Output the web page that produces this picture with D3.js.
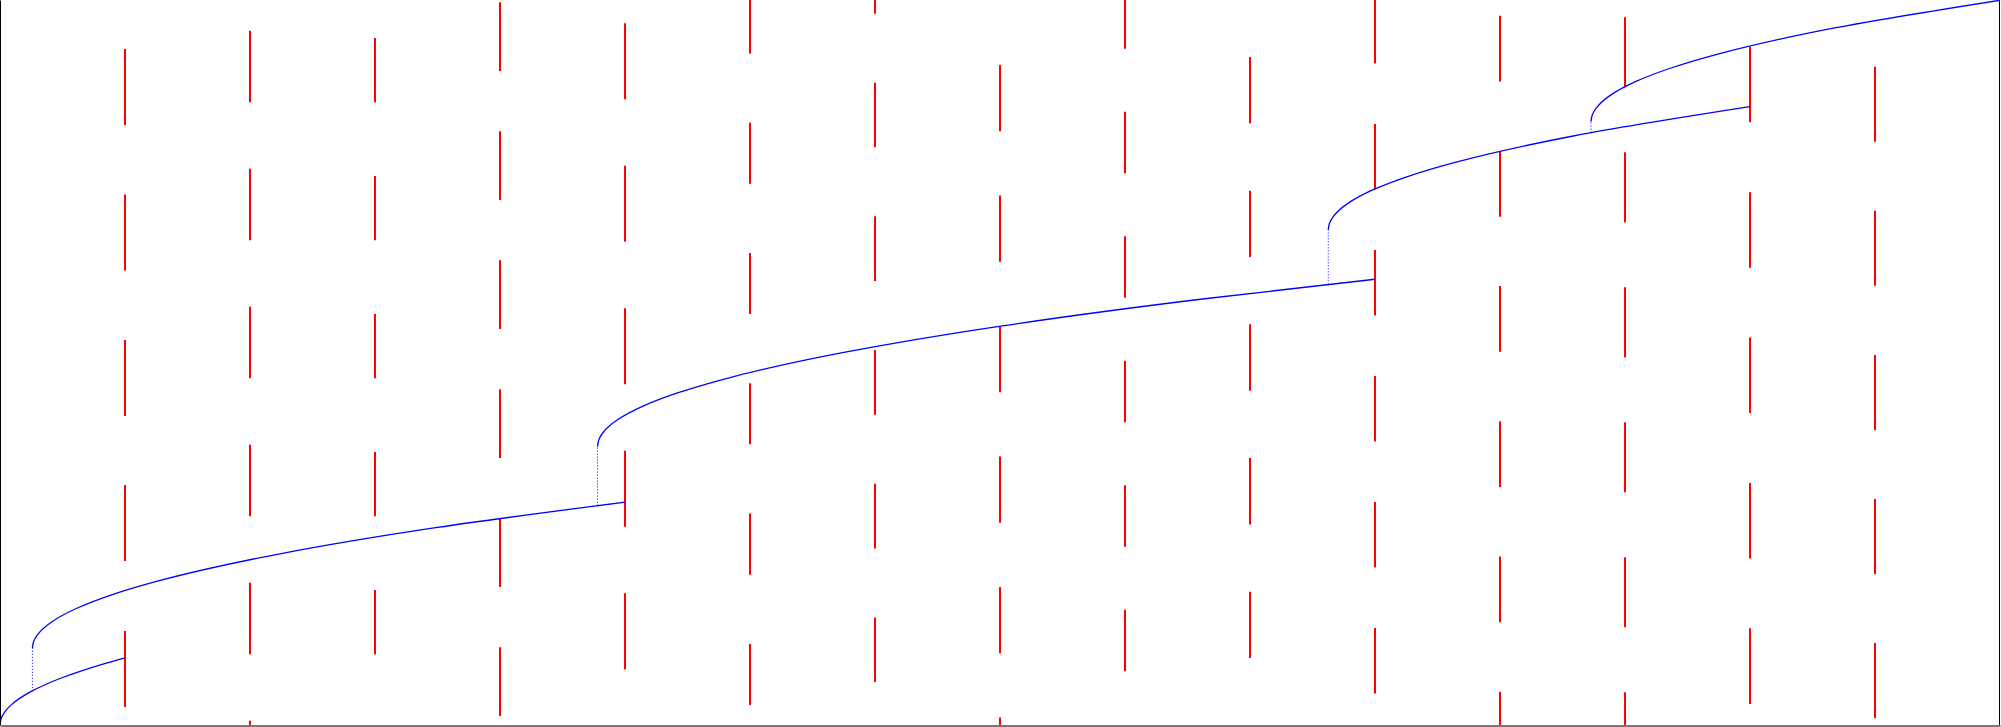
<!DOCTYPE html>
<html>
<head>
<meta charset="utf-8">
<script src="https://cdn.jsdelivr.net/npm/d3@7"></script>
<style>
html,body{margin:0;padding:0;background:#fff;overflow:hidden;}
svg{display:block;}
</style>
</head>
<body>
<script>
// ---- data ----
const xDomain = [0, 16];
const yDomain = [0, 10.8];

// red dashed columns: x position and [bottom, top] segments
const redColumns = [1,2,3,4,5,6,7,8,9,10,11,12,13,14,15];
const redSegments = [
  [[0.268,1.400],[2.443,3.575],[4.603,5.735],[6.770,7.902],[8.938,10.070]],
  [[0,0.064],[1.053,2.120],[3.109,4.175],[5.165,6.231],[7.220,8.287],[9.276,10.342]],
  [[1.053,2.011],[3.109,4.067],[5.165,6.122],[7.220,8.178],[9.276,10.234]],
  [[0.134,1.157],[2.056,3.079],[3.977,5.001],[5.899,6.922],[7.820,8.844],[9.742,10.765]],
  [[0.830,1.962],[2.952,4.085],[5.075,6.207],[7.198,8.330],[9.320,10.453]],
  [[0.299,1.208],[2.240,3.149],[4.181,5.090],[6.122,7.031],[8.063,8.972],[10.004,10.8]],
  [[0.639,1.603],[2.631,3.594],[4.622,5.586],[6.614,7.578],[8.606,9.569],[10.597,10.8]],
  [[0,0.112],[1.068,2.056],[3.012,4.000],[4.956,5.944],[6.900,7.887],[8.844,9.831]],
  [[0.800,1.718],[2.654,3.572],[4.509,5.427],[6.364,7.281],[8.218,9.136],[10.073,10.8]],
  [[0.997,1.986],[2.988,3.977],[4.980,5.969],[6.971,7.960],[8.963,9.952]],
  [[0.469,1.445],[2.346,3.322],[4.223,5.199],[6.100,7.076],[7.977,8.953],[9.854,10.8]],
  [[0,0.496],[1.531,2.510],[3.545,4.524],[5.559,6.538],[7.573,8.552],[9.587,10.566]],
  [[0,0.487],[1.455,2.498],[3.466,4.509],[5.477,6.520],[7.488,8.531],[9.499,10.542]],
  [[0.314,1.440],[2.480,3.606],[4.646,5.772],[6.812,7.938],[8.978,10.104]],
  [[0.103,1.220],[2.249,3.367],[4.396,5.513],[6.542,7.660],[8.689,9.806]]
];

// blue curve pieces [x, y]
const piece1 = [[0,0],[0.01,0.1],[0.04,0.2],[0.09,0.3],[0.16,0.4],[0.25,0.5],[0.36,0.6],[0.49,0.7],[0.64,0.8],[0.81,0.9],[1,1]];
const piece2 = [[0.259,1.143],[0.269,1.243],[0.299,1.343],[0.419,1.543],[0.619,1.743],[0.899,1.943],[1.259,2.143],[2.219,2.543],[3.499,2.943],[5.0,3.320]];
const piece3 = [[4.78,4.146],[4.79,4.246],[4.82,4.346],[4.94,4.546],[5.14,4.746],[5.42,4.946],[5.78,5.146],[6.74,5.546],[8.02,5.946],[9.62,6.346],[11.0,6.640]];
const piece4 = [[10.626,7.374],[10.636,7.474],[10.666,7.574],[10.786,7.774],[10.986,7.974],[11.266,8.174],[11.626,8.374],[12.586,8.774],[14.0,9.211]];
const piece5 = [[12.728,8.987],[12.738,9.087],[12.768,9.187],[12.888,9.387],[13.088,9.587],[13.368,9.787],[13.728,9.987],[14.688,10.387],[16.0,10.796]];
const pieces = [piece1, piece2, piece3, piece4, piece5];

// dotted connectors: [x, yFrom, yTo]
const connectors = [[0.259,0.509,1.143],[4.78,3.269,4.146],[10.626,6.564,7.374],[12.728,8.824,8.987]];

// ---- drawing ----
const W = 2001, H = 727;
const svg = d3.select("body").append("svg").attr("width", W).attr("height", H);
const x = d3.scaleLinear().domain(xDomain).range([0, 2000]);
const y = d3.scaleLinear().domain(yDomain).range([725, 0]);

// red dashes
const cols = svg.append("g").selectAll("g").data(redColumns).join("g");
cols.selectAll("line")
  .data((c, i) => redSegments[i].map(s => ({x: c, s})))
  .join("line")
  .attr("x1", d => x(d.x)).attr("x2", d => x(d.x))
  .attr("y1", d => y(d.s[0])).attr("y2", d => y(d.s[1]))
  .attr("stroke", "#ff0000").attr("stroke-width", 2);

// dotted connectors
svg.append("g").selectAll("line").data(connectors).join("line")
  .attr("x1", d => x(d[0])).attr("x2", d => x(d[0]))
  .attr("y1", d => y(d[1])).attr("y2", d => y(d[2]))
  .attr("stroke", "#0000ff").attr("stroke-width", 1)
  .attr("stroke-dasharray", "1,2");

// blue curves
const line = d3.line().x(d => x(d[0])).y(d => y(d[1])).curve(d3.curveMonotoneY);
svg.append("g").selectAll("path").data(pieces).join("path")
  .attr("d", line)
  .attr("fill", "none").attr("stroke", "#0000ff").attr("stroke-width", 1.3);

// frame via axes
const axL = svg.append("g").attr("transform", "translate(0,0)")
  .call(d3.axisLeft(y).ticks(0).tickSizeOuter(0).tickFormat(""));
axL.select(".domain").attr("stroke", "#000").attr("stroke-width", 1);
const axR = svg.append("g").attr("transform", "translate(1999,0)")
  .call(d3.axisRight(y).ticks(0).tickSizeOuter(0).tickFormat(""));
axR.select(".domain").attr("stroke", "#000").attr("stroke-width", 1);
const axB = svg.append("g").attr("transform", "translate(0,725.5)")
  .call(d3.axisBottom(x).ticks(0).tickSizeOuter(0).tickFormat(""));
axB.select(".domain").attr("stroke", "#777").attr("stroke-width", 2);
</script>
</body>
</html>
